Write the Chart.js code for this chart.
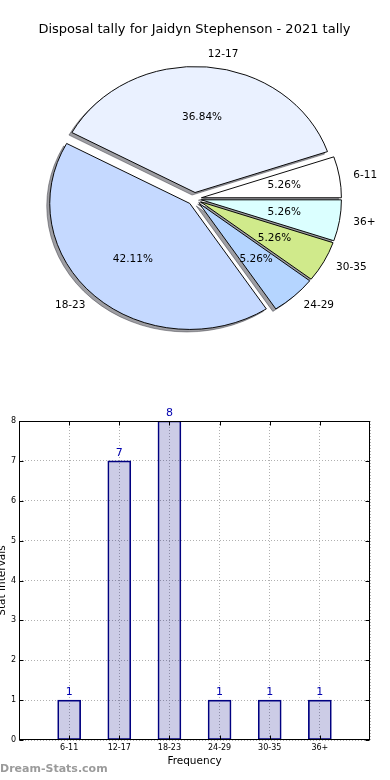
<!DOCTYPE html>
<html><head><meta charset="utf-8">
<script src="https://cdn.jsdelivr.net/npm/chart.js@4/dist/chart.umd.min.js"></script>
<style>
html,body{margin:0;padding:0;background:#fff;width:390px;height:780px;overflow:hidden;}
#pie{position:absolute;left:0;top:0;}
#bar{position:absolute;left:0;top:400px;}
#wm{position:absolute;left:0;top:762px;font:bold 11px 'DejaVu Sans';color:#9b9b9b;white-space:nowrap;}
</style></head><body>
<canvas id="pie" width="390" height="360"></canvas>
<canvas id="bar" width="390" height="380"></canvas>
<div id="wm">Dream-Stats.com</div>
<script>
const chartTitle = 'Disposal tally for Jaidyn Stephenson - 2021 tally';
const categories = ['6-11', '12-17', '18-23', '24-29', '30-35', '36+'];
const tallies = [1, 7, 8, 1, 1, 1];
const sliceColors = ['#ffffff', '#eaf1ff', '#c5d9ff', '#b5d5ff', '#d0ea8b', '#dbffff'];
const yTickValues = [0, 1, 2, 3, 4, 5, 6, 7, 8];
const xAxisTitle = 'Frequency';
const yAxisTitle = 'Stat Intervals';

Chart.defaults.font.family = "'DejaVu Sans', sans-serif";
Chart.defaults.color = '#000';

const EXPLODE = 7, SY = 0.9, SHX = -3, SHY = 2.5;

const pieFx = {
  id: 'pieFx',
  afterUpdate(chart) {
    chart.getDatasetMeta(0).data.forEach(el => {
      if (el._ex) return;
      el._ex = true;
      const base = Object.getPrototypeOf(el).draw;
      el.draw = function (ctx, area) {
        const mid = (this.startAngle + this.endAngle) / 2;
        ctx.save();
        ctx.translate(Math.cos(mid) * EXPLODE, Math.sin(mid) * EXPLODE);
        base.call(this, ctx, area);
        ctx.restore();
      };
    });
  },
  beforeDatasetsDraw(chart) {
    const { ctx, chartArea: a } = chart;
    const cx = (a.left + a.right) / 2, cy = (a.top + a.bottom) / 2;
    ctx.save();
    ctx.translate(cx, cy); ctx.scale(1, SY); ctx.translate(-cx, -cy);
    chart.getDatasetMeta(0).data.forEach(el => {
      ctx.save();
      ctx.translate(-10000, 0);
      ctx.shadowColor = 'rgba(40,40,50,0.45)';
      ctx.shadowOffsetX = 10000 + SHX;
      ctx.shadowOffsetY = SHY;
      ctx.shadowBlur = 0;
      el.draw(ctx, a);
      ctx.restore();
    });
  },
  afterDatasetsDraw(chart) {
    const ctx = chart.ctx;
    ctx.restore();
    const meta = chart.getDatasetMeta(0);
    const ds = chart.data.datasets[0];
    const total = ds.data.reduce((p, q) => p + q, 0);
    ctx.save();
    ctx.fillStyle = '#000';
    ctx.textBaseline = 'middle';
    meta.data.forEach((el, i) => {
      const mid = (el.startAngle + el.endAngle) / 2, c = Math.cos(mid), s = Math.sin(mid);
      const R = el.outerRadius;
      const ex = el.x + c * EXPLODE, ey = el.y + s * EXPLODE * SY;
      ctx.font = "10.5px 'DejaVu Sans'";
      ctx.textAlign = 'center';
      ctx.fillText((ds.data[i] / total * 100).toFixed(2) + '%', ex + 0.6 * R * c, ey + 0.6 * R * s * SY);
      ctx.textAlign = c > 0 ? 'left' : 'right';
      ctx.fillText(chart.data.labels[i], ex + 1.1 * R * c, ey + 1.1 * R * s * SY);
    });
    ctx.restore();
  }
};

// matplotlib draws counter-clockwise from east; Chart.js draws clockwise, so reverse.
const pieLabels = categories.slice().reverse();
const pieValues = tallies.slice().reverse();
const pieColors = sliceColors.slice().reverse();

new Chart(document.getElementById('pie'), {
  type: 'pie',
  data: {
    labels: pieLabels,
    datasets: [{
      data: pieValues,
      backgroundColor: pieColors,
      borderColor: '#000',
      borderWidth: 1
    }]
  },
  options: {
    responsive: false,
    animation: false,
    events: [],
    rotation: 90,
    radius: 140,
    layout: { padding: { left: 0, right: 1, top: 0, bottom: 0 } },
    plugins: {
      legend: { display: false },
      tooltip: { enabled: false },
      title: {
        display: true, text: chartTitle, color: '#000',
        font: { size: 13, weight: 'normal' },
        padding: { top: 22, bottom: 0 }
      }
    }
  },
  plugins: [pieFx]
});

const barFx = {
  id: 'barFx',
  afterDatasetsDraw(chart) {
    const { ctx, chartArea: a, scales } = chart;
    ctx.save();
    const meta = chart.getDatasetMeta(0);
    ctx.font = "11px 'DejaVu Sans'";
    ctx.fillStyle = '#0000b0';
    ctx.textAlign = 'center';
    ctx.textBaseline = 'bottom';
    meta.data.forEach((el, i) => ctx.fillText(String(tallies[i]), el.x, el.y - 2));
    ctx.strokeStyle = '#000';
    ctx.lineWidth = 1;
    const L = Math.round(a.left) + 0.5, T = Math.round(a.top) + 0.5, Rr = Math.round(a.right) - 0.5, B = Math.round(a.bottom) - 0.5;
    ctx.strokeRect(L, T, Rr - L, B - T);
    ctx.beginPath();
    yTickValues.forEach(v => {
      const y = Math.round(scales.y.getPixelForValue(v)) + 0.5;
      ctx.moveTo(L, y); ctx.lineTo(L + 4, y);
      ctx.moveTo(Rr, y); ctx.lineTo(Rr - 4, y);
    });
    categories.forEach((c, i) => {
      const x = Math.round(scales.x.getPixelForValue(i)) + 0.5;
      ctx.moveTo(x, B); ctx.lineTo(x, B - 4);
      ctx.moveTo(x, T); ctx.lineTo(x, T + 4);
    });
    ctx.stroke();
    ctx.restore();
  }
};

new Chart(document.getElementById('bar'), {
  type: 'bar',
  data: {
    datasets: [{
      data: tallies.map((v, i) => ({ x: i, y: v })),
      backgroundColor: 'rgba(0,0,128,0.2)',
      borderColor: '#000080',
      borderWidth: 1,
      borderSkipped: false,
      barThickness: 23
    }]
  },
  options: {
    responsive: false,
    animation: false,
    events: [],
    layout: { padding: { left: 0, right: 20, top: 21, bottom: 0 } },
    plugins: { legend: { display: false }, tooltip: { enabled: false } },
    scales: {
      x: {
        type: 'linear', min: -1, max: 6, offset: false,
        afterFit(s) { s.height = 40; },
        afterBuildTicks(s) { s.ticks = [-1, 0, 1, 2, 3, 4, 5, 6].map(v => ({ value: v })); },
        ticks: {
          font: { size: 8 }, color: '#000', padding: 3, maxRotation: 0, autoSkip: false,
          callback: v => (categories[v] !== undefined ? categories[v] : '')
        },
        grid: { color: '#b0b0b0', drawTicks: false, lineWidth: 1, offset: false },
        border: { display: false, dash: [1, 2] },
        title: { display: true, text: xAxisTitle, color: '#000', font: { size: 10.5 }, padding: { top: 0, bottom: 12.4 } }
      },
      y: {
        min: 0, max: 8,
        afterFit(s) { s.width = 19; },
        ticks: { stepSize: 1, font: { size: 8 }, color: '#000', padding: 3 },
        grid: { color: '#b0b0b0', drawTicks: false, lineWidth: 1 },
        border: { display: false, dash: [1, 2] },
        title: { display: true, text: yAxisTitle, color: '#000', font: { size: 10.5 }, padding: { top: -3.6, bottom: 0 } }
      }
    }
  },
  plugins: [barFx]
});
</script>
</body></html>
